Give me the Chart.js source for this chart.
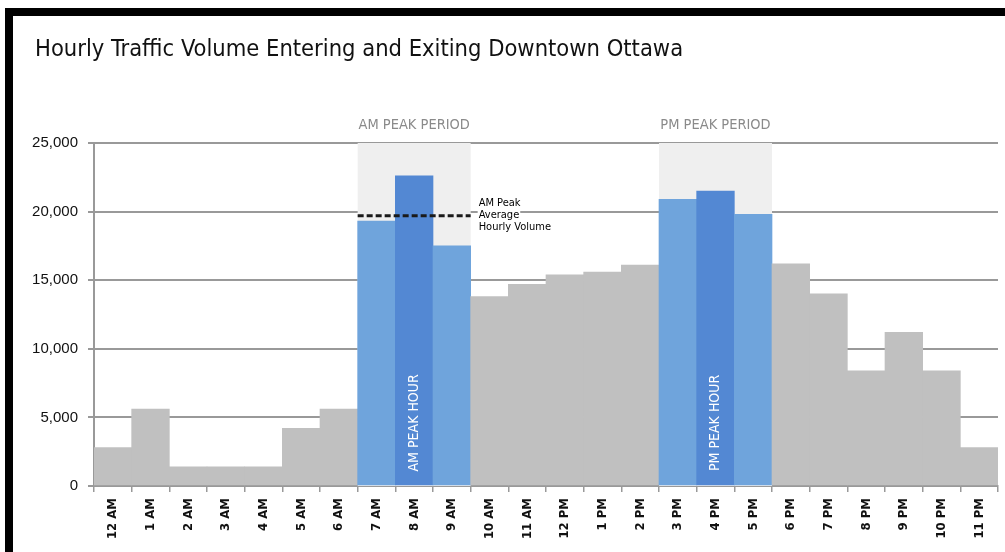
<!DOCTYPE html>
<html>
<head>
<meta charset="utf-8">
<script src="https://cdn.jsdelivr.net/npm/chart.js@4"></script>
<style>
  body{margin:0;background:#fff;}
  #frame{position:absolute;left:5px;top:8px;width:1000px;height:544px;border-top:8px solid #000;border-left:8px solid #000;box-sizing:border-box;}
  #wrap{position:absolute;left:13px;top:16px;width:992px;height:536px;}
</style>
</head>
<body>
<div id="frame"></div>
<div id="wrap"><canvas id="c"></canvas></div>
<script>
const title = 'Hourly Traffic Volume Entering and Exiting Downtown Ottawa';
const hours = ['12 AM','1 AM','2 AM','3 AM','4 AM','5 AM','6 AM','7 AM','8 AM','9 AM','10 AM','11 AM',
  '12 PM','1 PM','2 PM','3 PM','4 PM','5 PM','6 PM','7 PM','8 PM','9 PM','10 PM','11 PM'];
const volume = [2800,5600,1400,1400,1400,4200,5600,19300,22600,17500,13800,14700,
  15400,15600,16100,20900,21500,19800,16200,14000,8400,11200,8400,2800];
const amPeriod = ['7 AM','8 AM','9 AM'];
const pmPeriod = ['3 PM','4 PM','5 PM'];
const peakHours = ['8 AM','4 PM'];
const amPeakAverage = 19700;
const yTicks = [0,5000,10000,15000,20000,25000];

const GRAY='#c0c0c0', LIGHT='#6fa4dc', DARK='#5388d3';
const colors = hours.map(h => peakHours.includes(h) ? DARK : (amPeriod.includes(h)||pmPeriod.includes(h)) ? LIGHT : GRAY);
const NARROW = '"Liberation Sans Narrow","DejaVu Sans Condensed",sans-serif';

function edges(chart, labels){
  const x = chart.scales.x;
  const i0 = hours.indexOf(labels[0]), i1 = hours.indexOf(labels[labels.length-1]);
  const w = x.getPixelForValue(1) - x.getPixelForValue(0);
  return [x.getPixelForValue(i0)-w/2, x.getPixelForValue(i1)+w/2];
}

const peakPlugin = {
  id:'peaks',
  beforeDatasetsDraw(chart){
    const {ctx, chartArea:a} = chart;
    ctx.save();
    // title
    ctx.fillStyle='#111';
    ctx.font='23.5px '+NARROW;
    ctx.textAlign='left'; ctx.textBaseline='middle';
    ctx.fillText(title,22,34);
    // peak period shading
    ctx.fillStyle='#efefef';
    for(const p of [amPeriod,pmPeriod]){
      const [l,r] = edges(chart,p);
      ctx.fillRect(l,a.top,r-l,a.bottom-a.top);
    }
    ctx.fillStyle='#8a8a8a';
    ctx.font='14.5px '+NARROW;
    ctx.textAlign='center';
    const [al,ar]=edges(chart,amPeriod), [pl,pr]=edges(chart,pmPeriod);
    ctx.fillText('AM PEAK PERIOD',(al+ar)/2,a.top-18);
    ctx.fillText('PM PEAK PERIOD',(pl+pr)/2,a.top-18);
    ctx.restore();
  },
  afterDatasetsDraw(chart){
    const {ctx, scales:{x,y}} = chart;
    ctx.save();
    // rotated peak hour labels
    ctx.fillStyle='#fff';
    ctx.font='14px '+NARROW;
    ctx.textAlign='center'; ctx.textBaseline='middle';
    [['AM PEAK HOUR','8 AM'],['PM PEAK HOUR','4 PM']].forEach(([t,h])=>{
      ctx.save();
      ctx.translate(x.getPixelForValue(hours.indexOf(h)), y.getPixelForValue(4600));
      ctx.rotate(-Math.PI/2);
      ctx.fillText(t,0,0);
      ctx.restore();
    });
    // AM peak average dashed line
    const [l,r]=edges(chart,amPeriod);
    const yy=y.getPixelForValue(amPeakAverage);
    ctx.strokeStyle='#1a1a1a'; ctx.lineWidth=3; ctx.setLineDash([6,3]);
    ctx.beginPath(); ctx.moveTo(l,yy); ctx.lineTo(r,yy); ctx.stroke();
    ctx.setLineDash([]);
    ctx.font='11px '+NARROW;
    ctx.textAlign='left';
    const lines=['AM Peak','Average','Hourly Volume'];
    lines.forEach((t,i)=>{
      const ty=yy-13+i*12;
      const w=ctx.measureText(t).width;
      ctx.fillStyle='#fff'; ctx.fillRect(r+7,ty-6,w+2,12);
      ctx.fillStyle='#000'; ctx.fillText(t,r+8,ty);
    });
    ctx.restore();
  }
};

new Chart(document.getElementById('c'),{
  type:'bar',
  data:{labels:hours,datasets:[{data:volume,backgroundColor:colors,borderWidth:0,barPercentage:1,categoryPercentage:1}]},
  options:{
    responsive:true,maintainAspectRatio:false,animation:false,
    layout:{padding:{left:0,right:7,top:127,bottom:0}},
    plugins:{legend:{display:false},tooltip:{enabled:false},title:{display:false}},
    scales:{
      x:{
        grid:{drawOnChartArea:false,offset:true,tickLength:6,color:'#999',lineWidth:1.5},
        border:{color:'#999',width:2},
        ticks:{minRotation:90,maxRotation:90,autoSkip:false,color:'#111',padding:6,font:{family:NARROW,size:13,weight:'bold'}},
        afterFit(s){s.height=66;}
      },
      y:{
        min:0,max:25000,
        afterBuildTicks(s){s.ticks=yTicks.map(v=>({value:v}));},
        grid:{color:'#999',lineWidth:2,tickLength:6},
        border:{color:'#999',width:2},
        ticks:{color:'#111',padding:10,font:{family:'"Liberation Sans",Arial,sans-serif',size:15},
          callback:v=>v.toLocaleString('en-US')},
        afterFit(s){s.width=81;}
      }
    }
  },
  plugins:[peakPlugin]
});
</script>
</body>
</html>
